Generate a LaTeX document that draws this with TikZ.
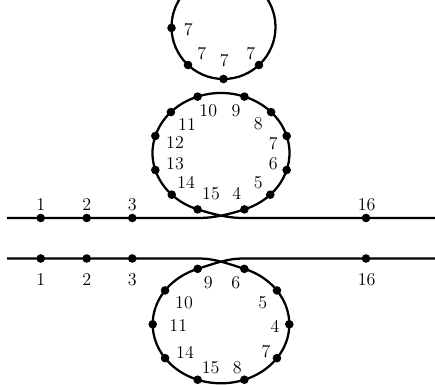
\documentclass[tikz,border=0pt]{standalone}
\usetikzlibrary{calc}
\begin{document}
\begin{tikzpicture}[x=0.75pt,y=0.75pt,
  curve/.style={line width=1.7pt},
  lbl/.style={inner sep=0pt, font=\fontsize{13.5}{15}\selectfont}]
\useasboundingbox (0,0) rectangle (435,385);
\clip (0,0) rectangle (435,385);
% centres
\coordinate (topc) at (223.5,358);
\coordinate (midc) at (221,232);
\coordinate (lowc) at (221,60.7);
% ---------- top circle ----------
\draw[curve] (topc) circle[radius=52];
\foreach \a/\n in {181/a,227/b,270/c,313/d}{
  \coordinate (tdot\n) at ($(topc)+(\a:52)$);
  \fill (tdot\n) circle[radius=4.3];
}
\node[lbl] (tl1) at (188.3,355) {7};
\node[lbl] (tl2) at (201.7,331.7) {7};
\node[lbl] (tl3) at (224.3,324) {7};
\node[lbl] (tl4) at (250.7,331.7) {7};
% ---------- middle loop ----------
\foreach \a/\n in {-70/4,-44/5,-16.5/6,16.5/7,43/8,70/9,110/10,137/11,163.5/12,196.5/13,224/14,250/15}{
  \coordinate (m\n) at ($(midc)+(\a:68.5 and 60)$);
}
\coordinate (uL) at (7,167);
\coordinate (uA) at (200,167);
\coordinate (uB) at (242,167);
\coordinate (uR) at (436,167);
\draw[curve] (uL) -- (uA) .. controls (215,167) and (232,171.6) .. (m4)
  arc[start angle=-70, end angle=250, x radius=68.5, y radius=60]
  .. controls (210,171.7) and (227,167) .. (uB) -- (uR);
\foreach \n in {4,...,15}{ \fill (m\n) circle[radius=4.3]; }
\coordinate (u1) at (40.7,167);
\coordinate (u2) at (86.7,167);
\coordinate (u3) at (132.3,167);
\coordinate (u16) at (366,167);
\foreach \n in {1,2,3,16}{ \fill (u\n) circle[radius=4.3]; }
\node[lbl] (ul1) at (40.7,180) {1};
\node[lbl] (ul2) at (86.7,180) {2};
\node[lbl] (ul3) at (132.3,180) {3};
\node[lbl] (ul16) at (366.7,180) {16};
\node[lbl] (ml10) at (208.3,274) {10};
\node[lbl] (ml9) at (236,274) {9};
\node[lbl] (ml11) at (187,260.7) {11};
\node[lbl] (ml8) at (258.3,261.7) {8};
\node[lbl] (ml12) at (175,242.7) {12};
\node[lbl] (ml7) at (273.3,241.7) {7};
\node[lbl] (ml13) at (175,221.7) {13};
\node[lbl] (ml6) at (273.3,221.7) {6};
\node[lbl] (ml14) at (186,202.7) {14};
\node[lbl] (ml5) at (258.3,202.7) {5};
\node[lbl] (ml15) at (211,191.7) {15};
\node[lbl] (ml4) at (236.7,191.7) {4};
% ---------- lower loop ----------
\foreach \a/\n in {70/6,35/5,0/4,-35/7,-70/8,110/9,145/10,180/11,215/14,250/15}{
  \coordinate (l\n) at ($(lowc)+(\a:68.3 and 59)$);
}
\coordinate (dL) at (7,126.5);
\coordinate (dA) at (200,126.5);
\coordinate (dB) at (242,126.5);
\coordinate (dR) at (436,126.5);
\draw[curve] (dL) -- (dA) .. controls (215,126.5) and (232,120) .. (l6)
  arc[start angle=70, end angle=-250, x radius=68.3, y radius=59]
  .. controls (210,120) and (227,126.5) .. (dB) -- (dR);
\foreach \n in {4,5,6,7,8,9,10,11,14,15}{ \fill (l\n) circle[radius=4.3]; }
\coordinate (d1) at (40.7,126.5);
\coordinate (d2) at (86.7,126.5);
\coordinate (d3) at (132.3,126.5);
\coordinate (d16) at (366,126.5);
\foreach \n in {1,2,3,16}{ \fill (d\n) circle[radius=4.3]; }
\node[lbl] (dl1) at (40.7,105) {1};
\node[lbl] (dl2) at (86.7,105) {2};
\node[lbl] (dl3) at (132.3,105) {3};
\node[lbl] (dl16) at (366.7,105) {16};
\node[lbl] (ll9) at (208.3,102.3) {9};
\node[lbl] (ll6) at (235.7,102.3) {6};
\node[lbl] (ll10) at (184,82.3) {10};
\node[lbl] (ll5) at (262.7,82.3) {5};
\node[lbl] (ll11) at (178.3,59) {11};
\node[lbl] (ll4) at (275,59) {4};
\node[lbl] (ll14) at (185,32.3) {14};
\node[lbl] (ll7) at (266,33.3) {7};
\node[lbl] (ll15) at (210.7,17.7) {15};
\node[lbl] (ll8) at (237.3,17.7) {8};
\end{tikzpicture}
\end{document}
